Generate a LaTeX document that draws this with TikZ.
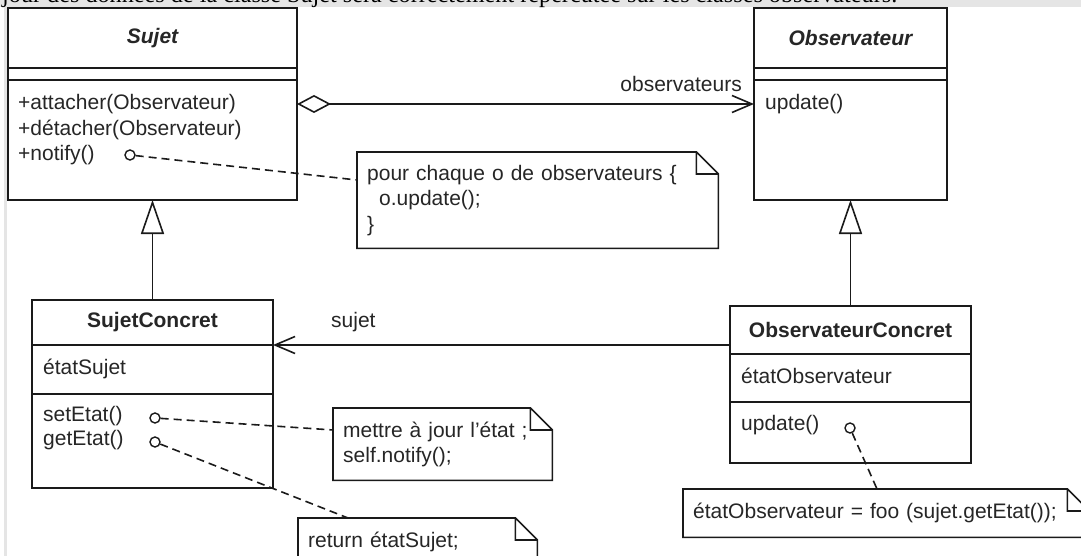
\documentclass[tikz,border=0pt]{standalone}
\usepackage{fontspec}
\setmainfont{Liberation Sans}
\newfontfamily\pageserif{Liberation Serif}
\usetikzlibrary{arrows.meta,positioning}

\definecolor{umlline}{HTML}{1A1A1A}
\definecolor{umltext}{HTML}{262626}
\definecolor{pagegray}{HTML}{E5E5E5}

% note outline with the folded corner
\newcommand\dogear[1]{%
  \draw[umlline, line width=1.6pt, line join=miter]
    (#1.north west) -- ([xshift=-22pt]#1.north east) -- ([yshift=-22pt]#1.north east)
    -- (#1.south east) -- (#1.south west) -- cycle
    ([xshift=-22pt]#1.north east) |- ([yshift=-22pt]#1.north east);}

\begin{document}
\begin{tikzpicture}[x=1pt,y=-1pt]
  \tikzset{every node/.style={font=\fontsize{21}{25.5}\selectfont, text=umltext}}
  \tikzset{compart/.style={draw=umlline, line width=1.8pt, minimum width=#1, inner sep=0pt, outer sep=0pt}}
  \tikzset{classname/.style={font=\fontsize{21}{25.5}\selectfont\bfseries}}
  \tikzset{abstractname/.style={font=\fontsize{21}{25.5}\selectfont\bfseries\itshape}}
  \tikzset{member/.style={anchor=base west, inner sep=0pt}}
  \tikzset{note/.style={anchor=north west, inner xsep=10pt, inner ysep=0pt, align=left, text width=#1}}
  \tikzset{dot/.style={circle, draw=umlline, fill=white, line width=1.4pt, minimum size=10pt, inner sep=0pt}}
  \tikzset{link/.style={draw=umlline, line width=1.6pt}}
  \tikzset{notelink/.style={link, dash pattern=on 8pt off 5pt}}
  % \tikzset{barb/.style={-{Straight Barb[length=20pt, width=17pt]}}}

  \useasboundingbox (0,0) rectangle (1081,556);
  \clip (0,0) rectangle (1081,556);
  \fill[white] (0,0) rectangle (1081,556);
  \fill[pagegray] (0,0) rectangle (1081,7);
  \fill[pagegray] (4,7) rectangle (7,556);
  \begin{scope}
    \clip (0,0) rectangle (1081,9);
    \node[anchor=base west, inner sep=0pt, font=\pageserif\fontsize{24.2}{24.2}\selectfont, text=black] (intro) at (2,3)
      {jour des données de la classe Sujet sera correctement répercutée sur les classes observateurs.};
  \end{scope}

  % Sujet
  \node[compart=289pt, minimum height=60pt, anchor=north west, abstractname] (sujet) at (8,8) {Sujet};
  \node[compart=289pt, minimum height=12pt, below=0pt of sujet] (sujetattr) {};
  \node[compart=289pt, minimum height=120pt, below=0pt of sujetattr] (sujetops) {};
  \foreach \op [count=\i] in {+attacher(Observateur),+détacher(Observateur),+notify()}
    \node[member] (sop\i) at (18,84.5+25.5*\i) {\op};

  % Observateur
  \node[compart=193pt, minimum height=60pt, anchor=north west, abstractname] (obs) at (754,8) {Observateur};
  \node[compart=193pt, minimum height=12pt, below=0pt of obs] (obsattr) {};
  \node[compart=193pt, minimum height=120pt, below=0pt of obsattr] (obsops) {};
  \node[member] (oop1) at (765,110) {update()};

  % SujetConcret
  \node[compart=241pt, minimum height=45pt, anchor=north west, classname] (scname) at (32,300) {SujetConcret};
  \node[compart=241pt, minimum height=49pt, below=0pt of scname] (scattrs) {};
  \node[compart=241pt, minimum height=94pt, below=0pt of scattrs] (scops) {};
  \node[member] (scattr) at (43,374) {étatSujet};
  \node[member] (scop1) at (43,421) {setEtat()};
  \node[member] (scop2) at (43,445) {getEtat()};

  % ObservateurConcret
  \node[compart=241pt, minimum height=48pt, anchor=north west, classname] (ocname) at (730,306) {ObservateurConcret};
  \node[compart=241pt, minimum height=48pt, below=0pt of ocname] (ocattrs) {};
  \node[compart=241pt, minimum height=61pt, below=0pt of ocattrs] (ocops) {};
  \node[member] (ocattr) at (741,383) {étatObservateur};
  \node[member] (ocop1) at (741,430) {update()};

  % relations
  \draw[link, {Diamond[open, length=34pt, width=18pt]}-{Straight Barb[length=20pt, width=17pt]}]
    ([yshift=-24pt]sujetops.north east) -- ([yshift=-24pt]obsops.north west);
  \node[anchor=base east, inner sep=0pt] (rolobs) at (742,92) {observateurs};
  \draw[link, {Triangle[open, length=34pt, width=23pt]}-] (sujetops.south) -- (scname.north);
  \draw[link, {Triangle[open, length=34pt, width=23pt]}-] (obsops.south) -- (ocname.north);
  \coordinate (sujetend) at ([yshift=-39pt]ocname.north west);
  \draw[link, -{Straight Barb[length=20pt, width=17pt]}] (sujetend) -- (sujetend -| scname.east);
  \node[anchor=base west, inner sep=0pt] (rolsuj) at (331,327) {sujet};

  % notes
  \node[note=341pt, minimum height=96pt] (notifynote) at (357,152)
    {pour chaque o de observateurs \{\\\hspace*{12pt}o.update();\\\}};
  \dogear{notifynote}
  \node[note=199pt, minimum height=72pt] (setnote) at (333,408) {mettre à jour l'état ;\\self.notify();};
  \dogear{setnote}
  \node[note=219pt, minimum height=48pt] (getnote) at (298,518) {return étatSujet;};
  \dogear{getnote}
  \node[note=386pt, minimum height=48pt] (updatenote) at (683,489) {étatObservateur = foo (sujet.getEtat());};
  \dogear{updatenote}

  \coordinate (notifyin) at (357,180);
  \coordinate (setin) at (333,430);
  \coordinate (getin) at (348,518);
  \coordinate (updatein) at (877,489);
  \node[dot] (notifydot) at (130,155) {};
  \node[dot] (setdot) at (155,418) {};
  \node[dot] (getdot) at (155,442) {};
  \node[dot] (updatedot) at (850,428) {};
  \draw[notelink] (notifydot) -- (notifyin);
  \draw[notelink] (setdot) -- (setin);
  \draw[notelink] (getdot) -- (getin);
  \draw[notelink] (updatedot) -- (updatein);
\end{tikzpicture}
\end{document}
